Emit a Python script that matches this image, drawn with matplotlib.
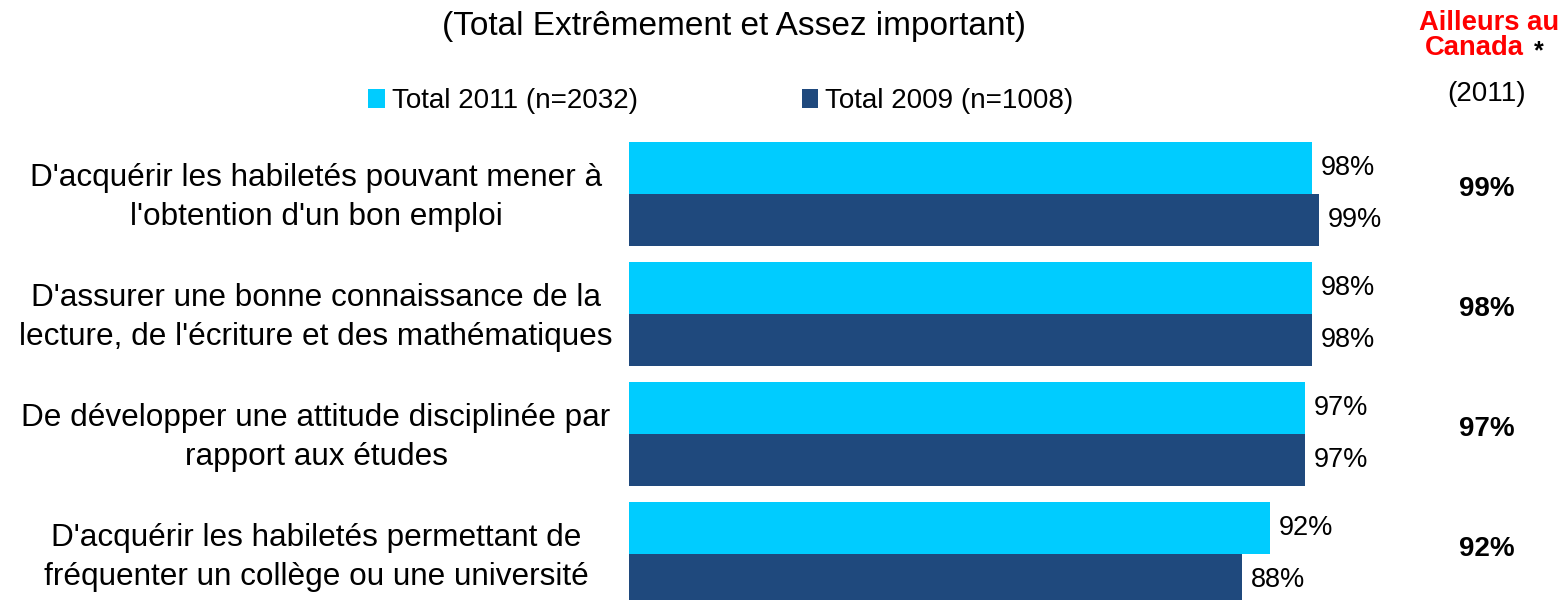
import matplotlib
matplotlib.use("Agg")
import matplotlib.pyplot as plt
import numpy as np

plt.rcParams['font.family'] = ['Liberation Sans', 'DejaVu Sans']

categories = [
    "D'acquérir les habiletés pouvant mener à\nl'obtention d'un bon emploi",
    "D'assurer une bonne connaissance de la\nlecture, de l'écriture et des mathématiques",
    "De développer une attitude disciplinée par\nrapport aux études",
    "D'acquérir les habiletés permettant de\nfréquenter un collège ou une université",
]
total_2011 = [98, 98, 97, 92]
total_2009 = [99, 98, 97, 88]
ailleurs_2011 = [99, 98, 97, 92]

legend_labels = ["Total 2011 (n=2032)", "Total 2009 (n=1008)"]
colors = ["#00CCFF", "#1F497D"]

W, H = 1559, 600
fig = plt.figure(figsize=(W / 100, H / 100), dpi=100)
ax = fig.add_axes([629 / W, 0, 697 / W, 458 / H])

y = np.arange(len(categories))
h = 0.433
b1 = ax.barh(y - h / 2, total_2011, height=h, color=colors[0], label=legend_labels[0])
b2 = ax.barh(y + h / 2, total_2009, height=h, color=colors[1], label=legend_labels[1])

ax.set_xlim(0, 100)
ax.set_ylim(-0.433 + 458 / 120, -0.433)
ax.axis('off')

for bars, vals in ((b1, total_2011), (b2, total_2009)):
    for bar, v in zip(bars, vals):
        ax.annotate(f"{v}%", (v, bar.get_y() + bar.get_height() / 2),
                    xytext=(6, 0), textcoords='offset points',
                    va='center', ha='left', fontsize=19.5)

tr = ax.get_yaxis_transform()
for i, (lab, v) in enumerate(zip(categories, ailleurs_2011)):
    ax.text(-0.449, i + 0.03, lab, transform=tr, ha='center', va='center',
            multialignment='center', fontsize=22.7, clip_on=False,
            linespacing=1.42)
    ax.text(1.231, i - 0.04, f"{v}%", transform=tr, ha='center', va='center',
            fontsize=20, fontweight='bold', clip_on=False)

fig.text(734 / W, 1 - 27 / H, "(Total Extrêmement et Assez important)",
         ha='center', va='center', fontsize=24)
fig.text(1489 / W, 1 - 23 / H, "Ailleurs au", ha='center', va='center',
         fontsize=19.7, fontweight='bold', color='red')
fig.text(1474 / W, 1 - 48 / H, "Canada", ha='center', va='center',
         fontsize=19.7, fontweight='bold', color='red')
fig.text(1539 / W, 1 - 51 / H, "*", ha='center', va='center',
         fontsize=18, fontweight='bold', color='black')
fig.text(1487 / W, 1 - 94 / H, "(2011)", ha='center', va='center', fontsize=20)

fig.legend(handles=[b1, b2], labels=legend_labels, loc='center left',
           bbox_to_anchor=(368 / W, 1 - 101 / H), ncol=2, frameon=False,
           fontsize=20, handlelength=0.6, handleheight=0.65,
           handletextpad=0.25, columnspacing=5.9, borderpad=0, borderaxespad=0)

fig.savefig("out.png", dpi=100)
